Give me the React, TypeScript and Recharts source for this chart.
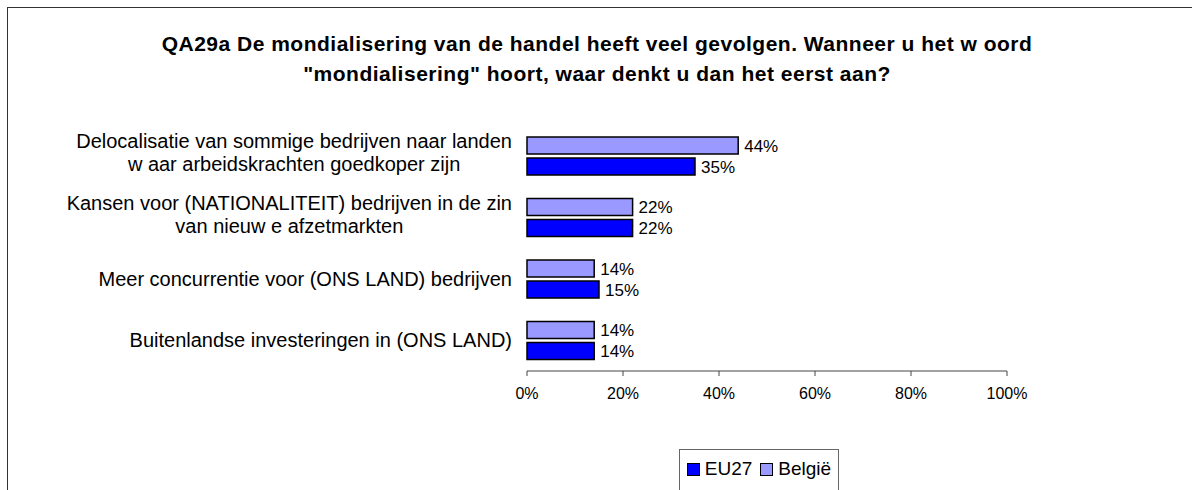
import React from 'react';
import { BarChart, Bar, XAxis, YAxis, LabelList } from 'recharts';

const categories = [
  'Delocalisatie van sommige bedrijven naar landen\nw aar arbeidskrachten goedkoper zijn',
  'Kansen voor (NATIONALITEIT) bedrijven in de zin\nvan nieuw e afzetmarkten',
  'Meer concurrentie voor (ONS LAND) bedrijven',
  'Buitenlandse investeringen in (ONS LAND)',
];
const belgie = [44, 22, 14, 14];
const eu27 = [35, 22, 15, 14];
const xTicks = [0, 20, 40, 60, 80, 100];

const data = categories.map((name, i) => ({ name, belgie: belgie[i], eu27: eu27[i] }));

const FONT = '"Liberation Sans", Arial, sans-serif';
const LABEL_SIZE = 20;

let ctx: any = null;
function measure(s: string) {
  if (!ctx) {
    ctx = document.createElement('canvas').getContext('2d');
  }
  ctx.font = `${LABEL_SIZE}px "Liberation Sans", Arial`;
  return ctx.measureText(s).width;
}

const CategoryTick = (props: any) => {
  const { x, y, payload } = props;
  const lines = String(payload.value).split('\n');
  const maxW = Math.max(...lines.map(measure));
  const cx = x - maxW / 2;
  const lh = 23;
  return (
    <g>
      {lines.map((l, i) => (
        <text
          key={i}
          x={cx}
          y={y + (i - (lines.length - 1) / 2) * lh - (lines.length > 1 ? 3 : 0)}
          textAnchor="middle"
          dominantBaseline="central"
          fontFamily={FONT}
          fontSize={LABEL_SIZE}
          fill="#000"
        >
          {l}
        </text>
      ))}
    </g>
  );
};

export default function App() {
  return (
    <div style={{ position: 'absolute', left: 0, top: 0, width: 1192, height: 490, overflow: 'hidden', background: '#fff' }}>
      <div
        style={{
          position: 'absolute',
          left: 7,
          top: 7,
          width: 1300,
          height: 600,
          borderLeft: '1.5px solid #333',
          borderTop: '1.5px solid #333',
        }}
      />
      <div
        style={{
          position: 'absolute',
          left: 0,
          top: 29,
          width: 1194,
          textAlign: 'center',
          fontFamily: FONT,
          fontWeight: 'bold',
          fontSize: 21,
          letterSpacing: 0.5,
          lineHeight: '30px',
        }}
      >
        QA29a De mondialisering van de handel heeft veel gevolgen. Wanneer u het w oord
        <br />
        "mondialisering" hoort, waar denkt u dan het eerst aan?
      </div>
      <div style={{ position: 'absolute', left: 0, top: 0 }}>
        <BarChart
          width={1192}
          height={490}
          data={data}
          layout="vertical"
          margin={{ top: 125, right: 185, bottom: 79, left: 0 }}
          barGap={4}
          barSize={17}
        >
          <XAxis
            type="number"
            domain={[0, 100]}
            ticks={xTicks}
            tickFormatter={(v) => `${v}%`}
            axisLine={{ stroke: '#444', strokeWidth: 1 }}
            tickLine={{ stroke: '#444' }}
            tickSize={5}
            height={40}
            tick={{ fill: '#000', fontSize: 16, fontFamily: FONT }}
            tickMargin={12}
          />
          <YAxis
            type="category"
            dataKey="name"
            width={527}
            axisLine={false}
            tickLine={false}
            tickSize={0}
            tickMargin={15}
            tick={<CategoryTick />}
          />
          <Bar dataKey="belgie" fill="#9999FF" stroke="#000" strokeWidth={1.5} isAnimationActive={false}>
            <LabelList
              dataKey="belgie"
              position="right"
              offset={6}
              formatter={(v: any) => `${v}%`}
              style={{ fill: '#000', fontSize: 17, fontFamily: FONT }}
            />
          </Bar>
          <Bar dataKey="eu27" fill="#0000FF" stroke="#000" strokeWidth={1.5} isAnimationActive={false}>
            <LabelList
              dataKey="eu27"
              position="right"
              offset={6}
              formatter={(v: any) => `${v}%`}
              style={{ fill: '#000', fontSize: 17, fontFamily: FONT }}
            />
          </Bar>
        </BarChart>
      </div>
      <div
        style={{
          position: 'absolute',
          left: 679,
          top: 449,
          width: 160,
          height: 60,
          border: '1.5px solid #666',
          boxSizing: 'border-box',
          fontFamily: FONT,
          fontSize: 19,
          display: 'flex',
          alignItems: 'flex-start',
          justifyContent: 'center',
          paddingTop: 8,
        }}
      >
        <span style={{ display: 'inline-block', width: 11, height: 11, background: '#0000FF', border: '1.5px solid #000', marginTop: 5, marginRight: 5 }} />
        <span>EU27</span>
        <span style={{ display: 'inline-block', width: 11, height: 11, background: '#9999FF', border: '1.5px solid #000', marginTop: 5, marginLeft: 8, marginRight: 5 }} />
        <span>België</span>
      </div>
    </div>
  );
}
